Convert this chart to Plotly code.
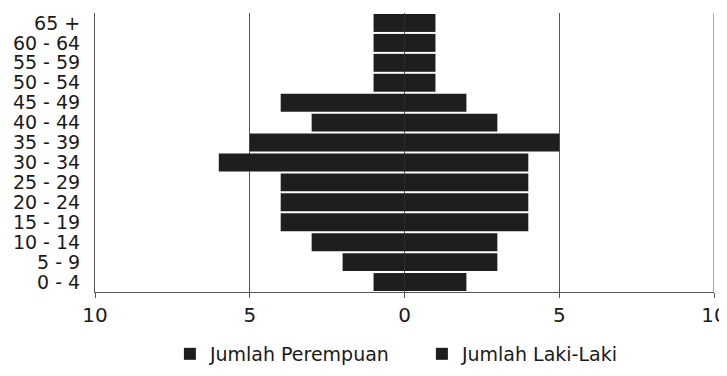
import plotly.graph_objects as go

age_groups = ["0 - 4", "5 - 9", "10 - 14", "15 - 19", "20 - 24", "25 - 29", "30 - 34",
              "35 - 39", "40 - 44", "45 - 49", "50 - 54", "55 - 59", "60 - 64", "65 +"]
perempuan = [1, 2, 3, 4, 4, 4, 6, 5, 3, 4, 1, 1, 1, 1]
laki_laki = [2, 3, 3, 4, 4, 4, 4, 5, 3, 2, 1, 1, 1, 1]
x_tickvals = [-10, -5, 0, 5, 10]
x_ticktext = ["10", "5", "0", "5", "10"]

bar_color = "#1e1e1e"
axis_color = "#555555"
font_family = "DejaVu Sans, Verdana, sans-serif"

fig = go.Figure()
fig.add_trace(go.Bar(
    y=age_groups, x=[-v for v in perempuan], orientation="h",
    name="Jumlah Perempuan", marker=dict(color=bar_color, line=dict(width=0)),
    customdata=perempuan, hovertemplate="%{y}: %{customdata}<extra>Jumlah Perempuan</extra>",
))
fig.add_trace(go.Bar(
    y=age_groups, x=laki_laki, orientation="h",
    name="Jumlah Laki-Laki", marker=dict(color=bar_color, line=dict(width=0)),
    hovertemplate="%{y}: %{x}<extra>Jumlah Laki-Laki</extra>",
))

fig.update_layout(
    width=727, height=376,
    barmode="relative", bargap=0.1,
    paper_bgcolor="white", plot_bgcolor="white",
    margin=dict(l=87, r=21, t=5, b=92),
    font=dict(family=font_family, color="#1a1a1a", size=19),
    showlegend=True,
    legend=dict(orientation="h", x=0.121, xanchor="left", y=-0.154, yanchor="top",
                font=dict(size=19), traceorder="normal",
                entrywidth=207, entrywidthmode="pixels"),
    xaxis=dict(range=[-10, 10], tickvals=x_tickvals, ticktext=x_ticktext,
               showgrid=True, gridcolor=axis_color, gridwidth=1,
               zeroline=False, showline=True, linecolor=axis_color, linewidth=1,
               ticks="outside", ticklen=5, tickcolor=axis_color,
               tickfont=dict(size=20), automargin=False),
    yaxis=dict(showgrid=False, zeroline=False, showline=True, linecolor=axis_color,
               linewidth=1, ticks="", tickfont=dict(size=19), ticklabelstandoff=10,
               tickmode="linear", dtick=1, automargin=False,
               range=[-0.5, 13.5]),
)
fig.add_shape(type="line", xref="x", yref="paper", x0=10, x1=10, y0=0, y1=1,
              line=dict(color=axis_color, width=1))

fig.write_html("out.html")
